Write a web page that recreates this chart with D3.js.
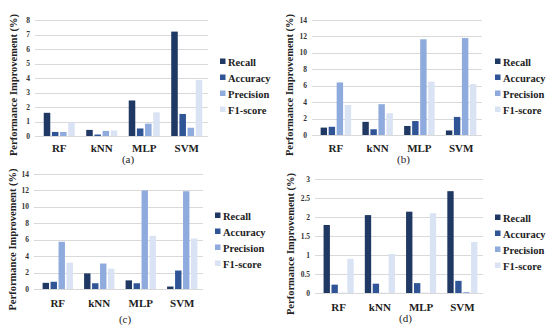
<!DOCTYPE html>
<html>
<head>
<meta charset="utf-8">
<script src="https://cdn.jsdelivr.net/npm/d3@7"></script>
<style>
  body { margin: 0; background: #fff; }
</style>
</head>
<body>
<svg id="chart" width="550" height="330" font-family="'Liberation Serif', 'Times New Roman', 'DejaVu Serif', serif"></svg>
<script>
// chart values
var categories = ["RF", "kNN", "MLP", "SVM"];
var series = ["Recall", "Accuracy", "Precision", "F1-score"];
var colors = ["#1f3864", "#2f5597", "#8faadc", "#dae3f3"];

// one row per series, one column per category
var valuesA = [[1.6, 0.42, 2.45, 7.2], [0.28, 0.1, 0.52, 1.52], [0.28, 0.35, 0.85, 0.57], [0.92, 0.38, 1.63, 3.87]];
var valuesB = [[0.9, 1.6, 1.1, 0.55], [1.0, 0.7, 1.7, 2.2], [6.4, 3.75, 11.65, 11.8], [3.65, 2.65, 6.5, 6.2]];
var valuesC = [[0.75, 1.9, 1.05, 0.3], [0.88, 0.7, 0.7, 2.25], [5.75, 3.1, 12.0, 11.9], [3.22, 2.47, 6.48, 6.15]];
var valuesD = [[1.79, 2.05, 2.14, 2.68], [0.22, 0.245, 0.26, 0.32], [0.004, 0.004, 0.004, 0.025], [0.9, 1.03, 2.1, 1.34]];

var ticksA = [0, 1, 2, 3, 4, 5, 6, 7, 8];
var ticksB = [0, 2, 4, 6, 8, 10, 12, 14];
var ticksC = [0, 2, 4, 6, 8, 10, 12, 14];
var ticksD = [0, 0.5, 1, 1.5, 2, 2.5, 3];

var captions = ["(a)", "(b)", "(c)", "(d)"];

// layout of the four panels
var panels = [
  {vals: valuesA, ticks: ticksA, x0: 38, x1: 208, yTop: 20, yBot: 136, lx: 220, ly: 62, cy: 148, capY: 163, labX: 13},
  {vals: valuesB, ticks: ticksB, x0: 315, x1: 482, yTop: 20, yBot: 135, lx: 495, ly: 62, cy: 148, capY: 163, labX: 289},
  {vals: valuesC, ticks: ticksC, x0: 37, x1: 203, yTop: 174, yBot: 289, lx: 215, ly: 216, cy: 303, capY: 323, labX: 12},
  {vals: valuesD, ticks: ticksD, x0: 318, x1: 483, yTop: 179, yBot: 293, lx: 495, ly: 218, cy: 307, capY: 322, labX: 290}
];

var svg = d3.select("#chart");

panels.forEach(function(p, pi){
  var g = svg.append("g").attr("class", "panel" + pi);
  var tmax = p.ticks[p.ticks.length - 1];

  var y = d3.scaleLinear().domain([0, tmax]).range([p.yBot, p.yTop]);
  var x = d3.scaleBand().domain(categories).range([p.x0, p.x1]).paddingInner(0.27).paddingOuter(0.135);
  var xs = d3.scaleBand().domain(series).range([0, x.bandwidth()]).paddingInner(0.2);

  // gridlines
  g.append("g").selectAll("line").data(p.ticks).enter().append("line")
    .attr("x1", p.x0 - 3).attr("x2", p.x1)
    .attr("y1", function(d){ return Math.round(y(d)) + 0.5; })
    .attr("y2", function(d){ return Math.round(y(d)) + 0.5; })
    .attr("stroke", "#d9d9d9").attr("stroke-width", 1);

  // tick labels
  g.append("g").selectAll("text").data(p.ticks).enter().append("text")
    .attr("x", p.x0 - 8)
    .attr("y", function(d){ return y(d) + 2.5; })
    .attr("text-anchor", "end")
    .attr("font-size", 7.5).attr("font-weight", "bold").attr("fill", "#333")
    .text(function(d){ return d; });

  // bars
  series.forEach(function(s, si){
    g.append("g").selectAll("rect").data(p.vals[si]).enter().append("rect")
      .attr("x", function(d, i){ return x(categories[i]) + xs(s); })
      .attr("width", xs.bandwidth())
      .attr("y", function(d){ return y(d); })
      .attr("height", function(d){ return y(0) - y(d); })
      .attr("fill", colors[si]);
  });

  // category labels
  g.append("g").selectAll("text").data(categories).enter().append("text")
    .attr("x", function(d){ return x(d) + x.bandwidth() / 2; })
    .attr("y", p.cy + 4)
    .attr("text-anchor", "middle")
    .attr("font-size", 11).attr("font-weight", "bold").attr("fill", "#222")
    .text(function(d){ return d; });

  // y axis title
  g.append("text")
    .attr("transform", "translate(" + p.labX + "," + ((p.yTop + p.cy) / 2 + 1) + ")rotate(-90)")
    .attr("text-anchor", "middle")
    .attr("dy", "0.35em")
    .attr("font-size", 10.5).attr("font-weight", "bold").attr("fill", "#222")
    .text("Performance Improvement (%)");

  // legend
  var lg = g.append("g").attr("transform", "translate(" + p.lx + "," + p.ly + ")");
  series.forEach(function(s, si){
    lg.append("rect").attr("x", 0).attr("y", si * 16 - 3.5).attr("width", 5.5).attr("height", 5.5).attr("fill", colors[si]);
    lg.append("text").attr("x", 8).attr("y", si * 16 + 3.8)
      .attr("font-size", 10.5).attr("font-weight", "bold").attr("fill", "#222")
      .text(s);
  });

  // caption
  g.append("text")
    .attr("x", (p.x0 + p.x1) / 2 + 5)
    .attr("y", p.capY)
    .attr("text-anchor", "middle")
    .attr("font-size", 11).attr("fill", "#222")
    .text(captions[pi]);
});
</script>
</body>
</html>
